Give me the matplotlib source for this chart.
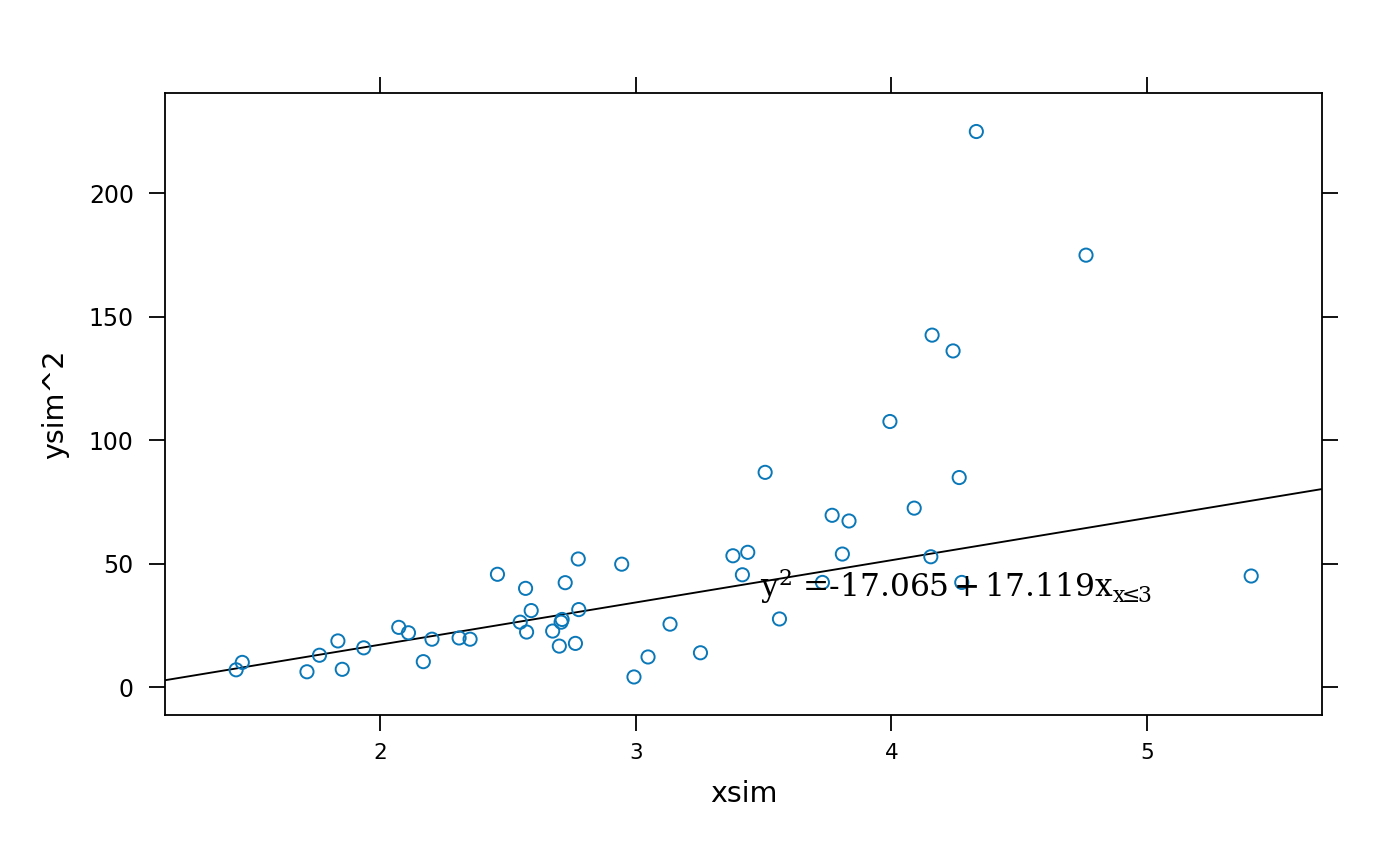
import matplotlib
matplotlib.use('Agg')
import numpy as np
import matplotlib.pyplot as plt

#colors used in the plot (lattice like)
point_color = '#0a78b8'
line_color = 'black'

#global font settings
matplotlib.rc('font', family='DejaVu Sans', size=16)
matplotlib.rcParams['mathtext.fontset'] = 'dejavuserif'

### data
xsim = [1.437, 1.461, 1.714, 1.763, 1.835, 1.852, 1.936, 2.073, 2.111, 2.169,
        2.203, 2.309, 2.352, 2.459, 2.548, 2.569, 2.573, 2.591, 2.675, 2.701,
        2.708, 2.712, 2.724, 2.764, 2.775, 2.777, 2.945, 2.993, 3.048, 3.134,
        3.253, 3.380, 3.417, 3.438, 3.506, 3.562, 3.730, 3.768, 3.808, 3.834,
        3.994, 4.089, 4.154, 4.159, 4.241, 4.265, 4.275, 4.332, 4.761, 5.407]
ysim2 = [7.0, 10.0, 6.2, 12.9, 18.7, 7.2, 15.9, 24.2, 22.0, 10.3,
         19.4, 19.9, 19.4, 45.7, 26.3, 40.0, 22.3, 31.0, 22.7, 16.6,
         26.3, 27.4, 42.3, 17.7, 51.9, 31.4, 49.8, 4.1, 12.2, 25.5,
         13.9, 53.2, 45.5, 54.6, 87.0, 27.6, 42.4, 69.6, 53.9, 67.3,
         107.6, 72.5, 52.8, 142.6, 136.2, 84.9, 42.4, 225.1, 175.0, 45.0]

#fitted line coefficients
intercept = -17.065
slope = 17.119
fit_label = r'$\mathrm{y^2}$ =-17.065$\,$+$\,$17.119x$_{\mathrm{x}\!\!\leq\!\!3}$'

x_ticks = [2, 3, 4, 5]
y_ticks = [0, 50, 100, 150, 200]

fig = plt.figure(figsize=(14, 8.66), dpi=100)
ax = fig.add_axes([0.1179, 0.1744, 0.8264, 0.7182])

#the points and the line
ax.scatter(xsim, ysim2, s=90, facecolors='none', edgecolors=point_color, linewidths=1.4, zorder=3)
ax.axline((0, intercept), slope=slope, color=line_color, lw=1.35, zorder=2)

#equation text
ax.text(3.486, 36.5, fit_label, family='DejaVu Serif', fontsize=22.5, ha='left', va='baseline', zorder=4)

#axis ranges
ax.set_xlim(1.159, 5.684)
ax.set_ylim(-11.3, 240.7)

#ticks on all sides, labels only bottom/left
ax.set_xticks(x_ticks)
ax.set_yticks(y_ticks)
ax.tick_params(axis='both', direction='out', length=11.5, width=1.3, color='black')
ax.tick_params(axis='x', top=True, labeltop=False, pad=9, labelsize=15.5)
ax.tick_params(axis='y', right=True, labelright=False, pad=11, labelsize=17)
for s in ax.spines.values():
    s.set_linewidth(1.3)

#labels
ax.set_xlabel('xsim', fontsize=20.5, labelpad=12)
ax.set_ylabel('ysim^2', fontsize=20.5, labelpad=14)

fig.savefig('out.png', dpi=100)
